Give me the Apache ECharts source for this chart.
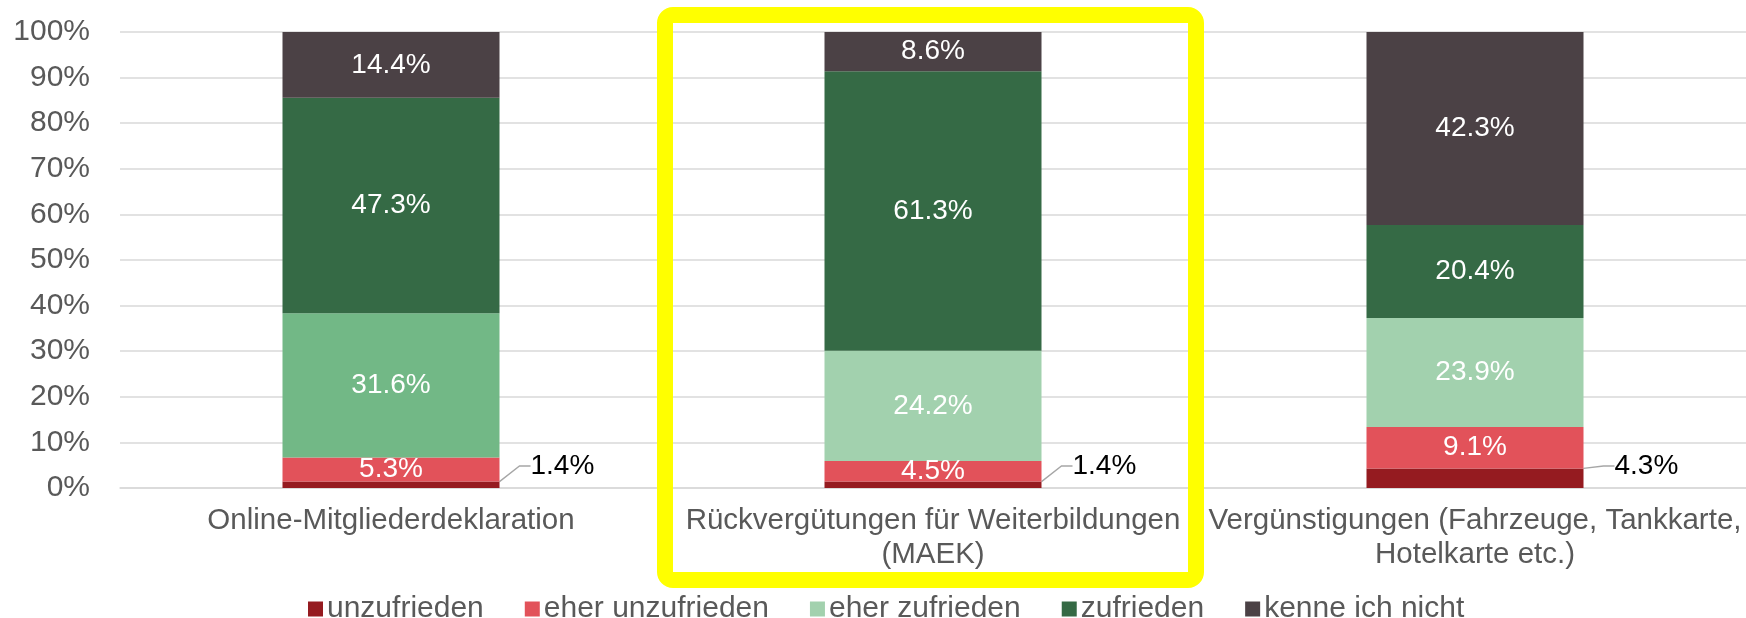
<!DOCTYPE html>
<html>
<head>
<meta charset="utf-8">
<script src="https://cdn.jsdelivr.net/npm/echarts@6/dist/echarts.min.js"></script>
<style>
  html, body { margin: 0; padding: 0; background: #fff; }
  #chart { width: 1746px; height: 618px; }
</style>
</head>
<body>
<div id="chart"></div>
<script>
// categories (line breaks as in the original axis labels)
var categories = [
    'Online-Mitgliederdeklaration',
    'Rückvergütungen für Weiterbildungen\n(MAEK)',
    'Vergünstigungen (Fahrzeuge, Tankkarte,\nHotelkarte etc.)'
];
var seriesNames = ['unzufrieden', 'eher unzufrieden', 'eher zufrieden', 'zufrieden', 'kenne ich nicht'];
var unzufrieden = [1.4, 1.4, 4.3];
var eherUnzufrieden = [5.3, 4.5, 9.1];
var eherZufrieden = [31.6, 24.2, 23.9];
var zufrieden = [47.3, 61.3, 20.4];
var kenneIchNicht = [14.4, 8.6, 42.3];
var yTicks = [0, 10, 20, 30, 40, 50, 60, 70, 80, 90, 100];

var colors = ['#951b20', '#e2525a', '#a2d1ae', '#356a45', '#4b4145'];
var FONT = '"Liberation Sans", Arial, sans-serif';

var myChart = echarts.init(document.getElementById('chart'), null, { renderer: 'canvas' });

function pct(p) {
    return p.value.toFixed(1) + '%';
}

// weisse Beschriftung mitten im Segment
function innerLabel() {
    return {
        show: true,
        position: 'inside',
        color: '#fff',
        fontFamily: FONT,
        fontSize: 28,
        formatter: pct
    };
}

var allData = [unzufrieden, eherUnzufrieden, eherZufrieden, zufrieden, kenneIchNicht];

var series = allData.map(function (values, i) {
    return {
        name: seriesNames[i],
        type: 'bar',
        stack: 'total',
        barWidth: 217,
        itemStyle: { color: colors[i] },
        label: innerLabel(),
        emphasis: { disabled: true },
        data: values.slice()
    };
});

// erster Balken: "eher zufrieden" dunkler eingefaerbt
series[2].data[0] = { value: eherZufrieden[0], itemStyle: { color: '#72b886' } };

// "unzufrieden": Beschriftung rechts aussen mit Fuehrungslinie
series[0].label = {
    show: true,
    color: '#000',
    fontFamily: FONT,
    fontSize: 28,
    padding: [0, 0, 0, 9],
    formatter: pct
};
series[0].labelLayout = function (p) {
    return {
        x: p.rect.x + p.rect.width + 22,
        y: p.rect.y + p.rect.height - 22,
        align: 'left',
        verticalAlign: 'middle'
    };
};
series[0].labelLine = {
    show: true,
    length2: 11,
    lineStyle: { color: '#a6a6a6', width: 1.3 }
};

var option = {
    animation: false,
    textStyle: { fontFamily: FONT },
    grid: { left: 120, right: -4, top: 32, bottom: 130 },
    legend: {
        data: seriesNames,
        left: 303,
        top: 589,
        itemWidth: 15,
        itemHeight: 15,
        itemGap: 41,
        icon: 'rect',
        textStyle: { color: '#595959', fontSize: 30, fontFamily: FONT, padding: [0, 0, 0, -1] }
    },
    xAxis: {
        type: 'category',
        data: categories,
        axisTick: { show: false },
        axisLine: { lineStyle: { color: '#d9d9d9', width: 1.5 } },
        axisLabel: {
            color: '#595959',
            fontSize: 29.5,
            fontFamily: FONT,
            margin: 16,
            lineHeight: 34,
            interval: 0
        }
    },
    yAxis: {
        type: 'value',
        min: yTicks[0],
        max: yTicks[yTicks.length - 1],
        interval: 10,
        axisLine: { show: false },
        axisTick: { show: false },
        splitLine: { lineStyle: { color: '#d9d9d9', width: 1.5 } },
        axisLabel: {
            color: '#595959',
            fontSize: 30,
            fontFamily: FONT,
            margin: 30,
            formatter: '{value}%'
        }
    },
    graphic: [{
        type: 'rect',
        shape: { x: 665, y: 15, width: 531, height: 565, r: 8 },
        style: { fill: 'none', stroke: '#ffff00', lineWidth: 16 },
        z: 10
    }],
    series: series
};

myChart.setOption(option);
</script>
</body>
</html>
